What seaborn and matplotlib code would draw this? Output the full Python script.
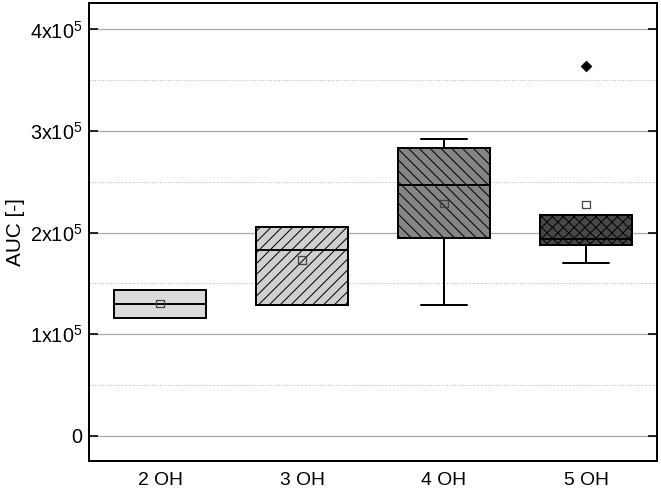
import numpy as np
import matplotlib
matplotlib.use("Agg")
import matplotlib.pyplot as plt
import seaborn as sns
from matplotlib.ticker import FixedLocator, MultipleLocator

# box statistics (AUC values)
groups = ["2 OH", "3 OH", "4 OH", "5 OH"]
whisker_low = [1.16e5, 1.29e5, 1.29e5, 1.70e5]
q1 = [1.16e5, 1.29e5, 1.944e5, 1.872e5]
median = [1.297e5, 1.823e5, 2.47e5, 1.937e5]
q3 = [1.435e5, 2.052e5, 2.834e5, 2.174e5]
whisker_high = [1.435e5, 2.052e5, 2.923e5, 2.174e5]
means = [1.30e5, 1.73e5, 2.289e5, 2.273e5]
outliers = [[], [], [], [3.645e5]]

ytick_vals = [0, 1e5, 2e5, 3e5, 4e5]
ytick_labels = ["0", "1x10$^5$", "2x10$^5$", "3x10$^5$", "4x10$^5$"]

fill_colors = ["#dadada", "#d0d0d0", "#858585", "#474747"]
hatches = ["", "////", "\\\\\\\\", "xxxx"]

# 스타일
sns.set_theme(style="white")
plt.rcParams["font.family"] = ["Liberation Sans", "DejaVu Sans"]
plt.rcParams["mathtext.fontset"] = "custom"
plt.rcParams["mathtext.rm"] = "Liberation Sans"
plt.rcParams["mathtext.default"] = "regular"
plt.rcParams["hatch.linewidth"] = 0.55
plt.rcParams["hatch.color"] = "black"
for k in ["text.color", "axes.labelcolor", "xtick.color", "ytick.color"]:
    plt.rcParams[k] = "black"

DPI = 130
fig = plt.figure(figsize=(661 / DPI, 490 / DPI), dpi=DPI)
ax = fig.add_axes([89 / 661, 1 - 461 / 490, (657 - 89) / 661, (461 - 3.3) / 490])

pos = np.arange(len(groups))
stats = []
for i, g in enumerate(groups):
    stats.append(dict(label=g, whislo=whisker_low[i], q1=q1[i], med=median[i],
                      q3=q3[i], whishi=whisker_high[i], fliers=[]))

lw = 1.1
bp = ax.bxp(stats, positions=pos, widths=0.645, capwidths=0.33, patch_artist=True,
            showfliers=False, manage_ticks=False,
            boxprops=dict(edgecolor="black", linewidth=lw),
            whiskerprops=dict(color="black", linewidth=lw),
            capprops=dict(color="black", linewidth=lw),
            medianprops=dict(color="black", linewidth=lw))
for box, fc, h in zip(bp["boxes"], fill_colors, hatches):
    box.set_facecolor(fc)
    box.set_hatch(h)
    box.set_zorder(2)

# 평균 마커, 이상치
sns.scatterplot(x=pos, y=means, marker="s", s=16, facecolor="none",
                edgecolor="#444444", linewidth=0.7, zorder=5, ax=ax)
out_x = [p for p, o in zip(pos, outliers) for _ in o]
out_y = [v for o in outliers for v in o]
sns.scatterplot(x=out_x, y=out_y, marker="D", s=18, color="black",
                edgecolor="black", zorder=5, ax=ax)

ax.set_xlim(-0.5, 3.5)
ax.set_ylim(-0.251e5, 4.258e5)
ax.set_xticks(pos)
ax.set_xticklabels(groups)
ax.yaxis.set_major_locator(FixedLocator(ytick_vals))
ax.set_yticklabels(ytick_labels)
ax.yaxis.set_minor_locator(MultipleLocator(0.5e5))

ax.set_axisbelow(True)
ax.grid(False)
ax.yaxis.grid(True, which="major", color="#ababab", linewidth=0.7, linestyle="-")
ax.yaxis.grid(True, which="minor", color="#bbbbbb", linewidth=0.6, linestyle=(0, (1, 1.5)))

ax.tick_params(axis="y", which="major", direction="in", length=5, width=0.9,
               left=True, right=True, labelsize=11, pad=3.5, color="black")
ax.tick_params(axis="y", which="minor", length=0)
ax.tick_params(axis="x", length=0, labelsize=10.7, pad=6)

ax.set_ylabel("AUC [-]", fontsize=11.5, labelpad=3)
ax.set_xlabel("")
for s in ax.spines.values():
    s.set_visible(True)
    s.set_color("black")
    s.set_linewidth(1.1)

fig.savefig("out.png", dpi=DPI)
